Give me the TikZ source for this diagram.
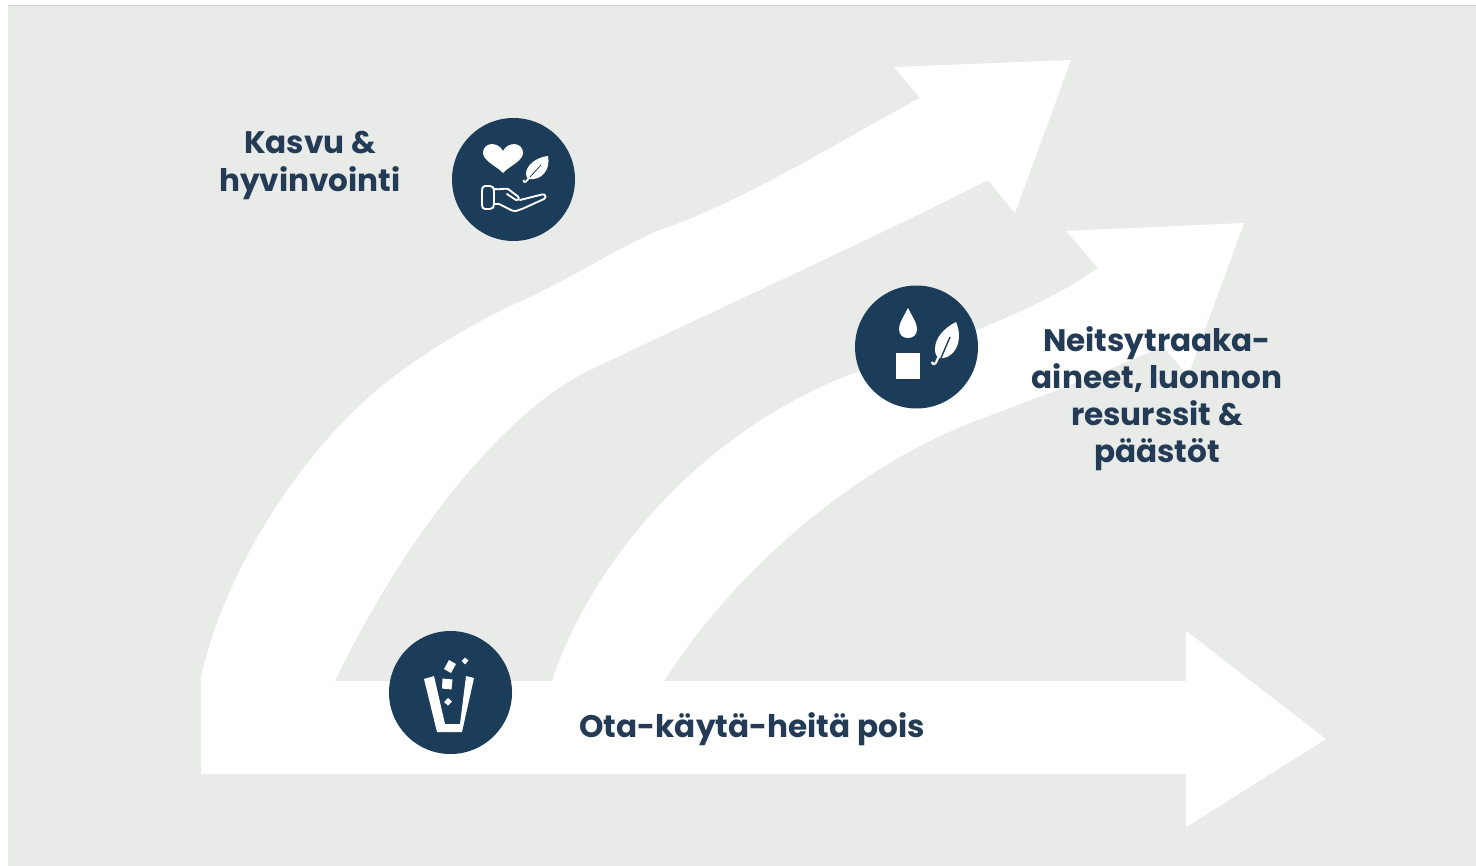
\documentclass[tikz,border=0pt]{standalone}
\usepackage{fontspec}
\setmainfont{Poppins}
\definecolor{bggray}{HTML}{E9EBE8}
\definecolor{navy}{HTML}{1B3D5A}
\definecolor{txt}{HTML}{233B55}
\tikzset{
  x=0.5pt,y=-0.5pt,
  flow/.style={fill=white,draw=none},
  disc/.style={circle,fill=navy,draw=none,minimum size=61.5pt,inner sep=0pt},
  glyph/.style={fill=white,draw=none},
  glyphline/.style={draw=white,line width=0.95pt,line join=round,line cap=round},
  label/.style={font=\bfseries\fontsize{15.55}{18.6}\selectfont,text=txt,align=center,inner sep=0pt}
}
\begin{document}
\begin{tikzpicture}
\useasboundingbox (0,0) rectangle (1476,866);
\fill[white] (0,0) rectangle (1476,866);
\fill[bggray] (8,6) rectangle (1476,866);
\draw[line width=0.5pt,color=black!18] (8,5.5) -- (1476,5.5);
% main arrow
\path[flow] (201,774) -- (201,677)
  .. controls (225,570) and (300,455) .. (377,390)
  .. controls (420,354) and (480,319) .. (530,297)
  .. controls (560,284) and (625,244) .. (660,230)
  .. controls (745,201) and (845,138) .. (920,98)
  -- (894,67) -- (1071,60) -- (1015,213) -- (988,180)
  .. controls (880,235) and (720,308) .. (590,370)
  .. controls (510,408) and (410,525) .. (335,681)
  -- (1186,681) -- (1186,631) -- (1326,739) -- (1186,827) -- (1186,774) -- cycle;
% second arrow
\path[flow] (552,681)
  .. controls (590,565) and (700,430) .. (857,372)
  .. controls (930,350) and (1040,310) .. (1098,268)
  -- (1066,231) -- (1244,223) -- (1188,376) -- (1163,346)
  .. controls (1110,370) and (1040,397) .. (983,418)
  .. controls (855,465) and (735,570) .. (664,681) -- cycle;
% discs
\node[disc] (d1) at (513.5,179.5) {};
\node[disc] (d2) at (916.5,347) {};
\node[disc] (d3) at (450.5,692.5) {};
% icon: heart, leaf, hand
\path[glyph] (503,173)
  .. controls (498,167) and (483,161) .. (483,153)
  .. controls (483,142) and (498,141) .. (503,151)
  .. controls (508,141) and (523,142) .. (523,153)
  .. controls (523,161) and (508,167) .. (503,173) -- cycle;
\path[glyph] (548,156)
  .. controls (537,157) and (526,165) .. (526,174)
  .. controls (526,176) and (527,178) .. (528.5,179)
  .. controls (541,181) and (551,170) .. (548,156) -- cycle;
\draw[glyphline] (529,178) -- (526,181.5) .. controls (525,182.5) and (523.5,182) .. (523.5,180.5);
\draw[navy,line width=0.4pt] (530,177) -- (541,165);
\draw[glyphline] (485,186) -- (490,186) .. controls (493,186) and (494,188) .. (494,191)
  -- (494,204) .. controls (494,207) and (493,209) .. (490,209) -- (485,209)
  .. controls (482.5,209) and (482,207) .. (482,204) -- (482,191) .. controls (482,188) and (482.5,186) .. (485,186) -- cycle;
\draw[glyphline] (494,189) .. controls (500,190) and (505,188) .. (508,189) -- (518,196.5)
  .. controls (520,199) and (518,201) .. (516,200) -- (507,194);
\draw[glyphline] (494,204) -- (499,204) -- (512,210.5) .. controls (516,212) and (518,210) .. (522,209)
  -- (544,199) .. controls (547,197) and (545,193.5) .. (542,194.5) -- (520,200);
% icon: drop, square, leaf
\path[glyph] (908,308)
  .. controls (903,318) and (899,323) .. (899,329)
  .. controls (899,335) and (903,338) .. (908,338)
  .. controls (913,338) and (917,335) .. (917,329)
  .. controls (917,323) and (913,318) .. (908,308) -- cycle;
\path[glyph] (896,352.5) rectangle (920,379);
\path[glyph] (956,322)
  .. controls (944,328) and (935,338) .. (935,349)
  .. controls (935,353) and (936,356) .. (938,358)
  .. controls (952,361) and (965,343) .. (956,322) -- cycle;
\draw[glyphline,line width=1.1pt] (938,358) -- (936,362.5) .. controls (935,365) and (932.5,365) .. (932,362.5);
\draw[navy,line width=0.7pt] (941,358) -- (950,337);
% icon: cup
\path[glyph] (424,679) -- (434,676) -- (445,724) -- (460,724) -- (466,676) -- (474,678)
  -- (462,732) -- (437,732) -- cycle;
\path[glyph] (449,660) -- (456,664) -- (451,673) -- (444,669) -- cycle;
\path[glyph] (465,657.5) -- (468.5,660.5) -- (465,664.5) -- (461.5,661) -- cycle;
\path[glyph] (442.5,678.5) -- (452.5,679.5) -- (451.5,689.5) -- (442,688.5) -- cycle;
\path[glyph] (448,698) -- (452,701.5) -- (448,705.5) -- (444,702) -- cycle;
% labels
\node[label] (t1) at (310,165.5) {Kasvu \&\\hyvinvointi};
\node[label] (t2) at (1157,398.5) {Neitsytraaka-\\aineet, luonnon\\resurssit \&\\päästöt};
\node[label] (t3) at (752,729) {Ota-käytä-heitä pois};
\end{tikzpicture}
\end{document}
